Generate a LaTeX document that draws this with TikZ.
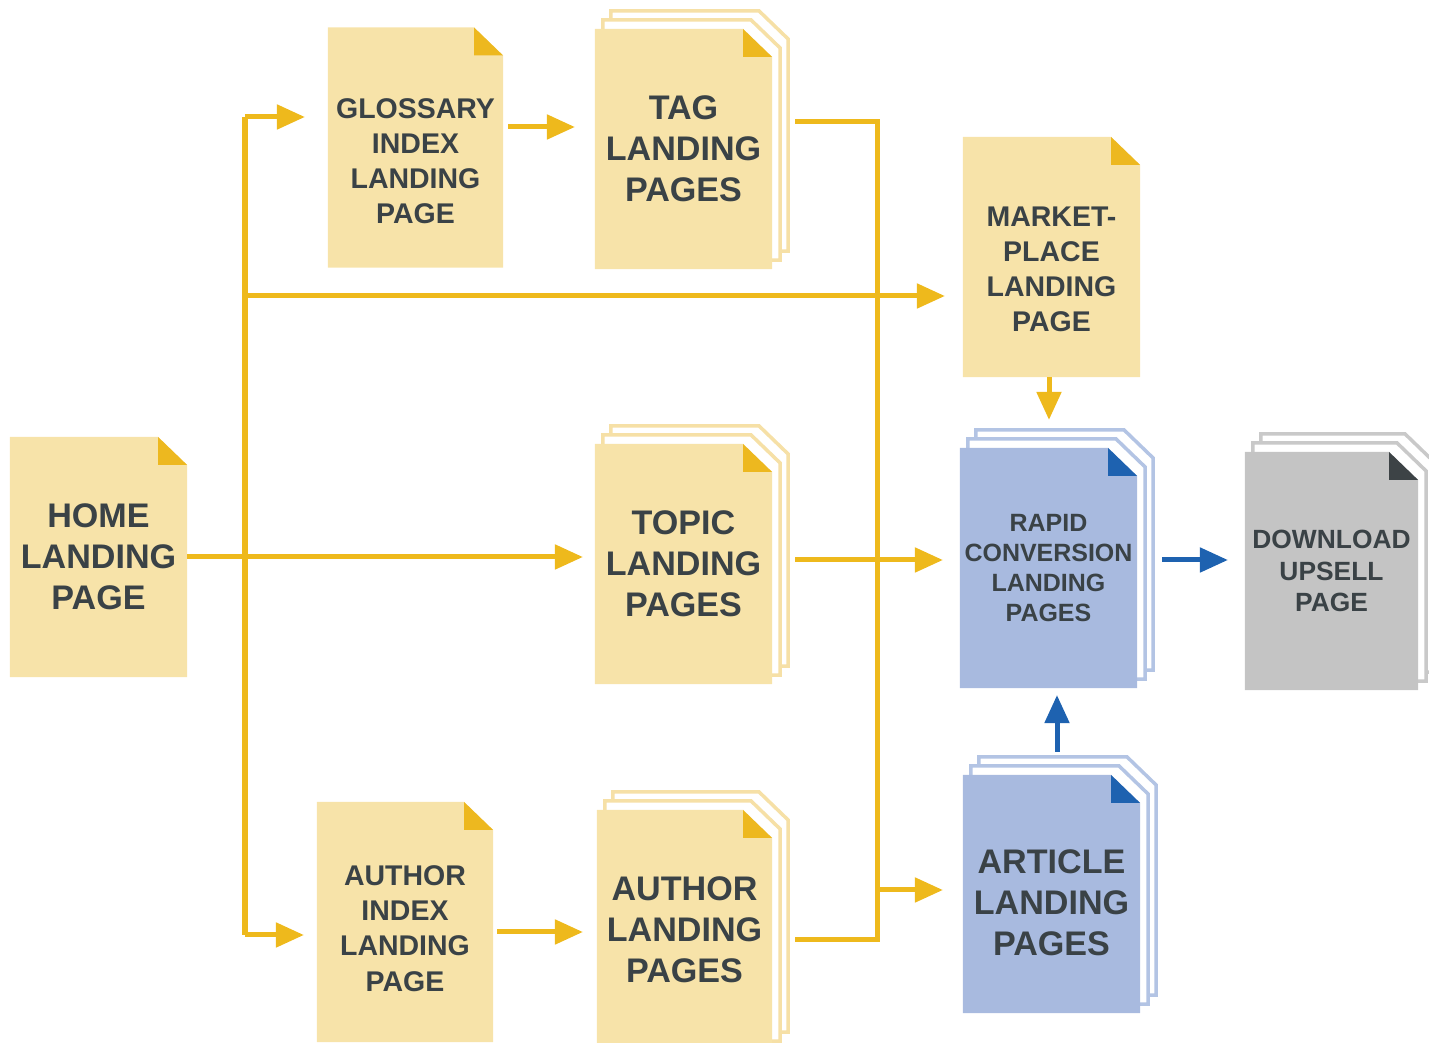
\documentclass[tikz,border=0pt]{standalone}
\usepackage{fontspec}
\setmainfont{Liberation Sans}
\usepackage{tikz}
\usetikzlibrary{arrows.meta,backgrounds}

\definecolor{pagey}{HTML}{F7E3A9}
\definecolor{foldy}{HTML}{EDB81F}
\definecolor{sheety}{HTML}{F6E0A6}
\definecolor{pageb}{HTML}{A8BADF}
\definecolor{foldb}{HTML}{1E62B0}
\definecolor{sheetb}{HTML}{B3C4E4}
\definecolor{pageg}{HTML}{C4C4C4}
\definecolor{foldg}{HTML}{3D4346}
\definecolor{sheetg}{HTML}{C9C9C9}
\definecolor{ink}{HTML}{3A4246}
\definecolor{flowy}{HTML}{EEB91C}
\definecolor{flowb}{HTML}{1E62B0}

\tikzset{
  page/.style={minimum width=1.77cm, minimum height=2.4cm, inner sep=0pt, outer sep=0pt,
    align=center, text=ink},
  big/.style={font=\fontsize{9.7}{11.7}\selectfont\bfseries},
  mid/.style={font=\fontsize{8.1}{10}\selectfont\bfseries},
  tiny/.style={font=\fontsize{7.1}{8.6}\selectfont\bfseries},
  small/.style={font=\fontsize{7.5}{9}\selectfont\bfseries},
  sheet/.style={fill=white, line width=0.035cm},
  wire/.style={draw=flowy, line width=0.05cm},
  flow/.style={wire, -{Triangle[length=0.28cm,width=0.24cm]}},
  bflow/.style={draw=flowb, line width=0.05cm, -{Triangle[length=0.28cm,width=0.24cm]}}
}

% outline of a page, shifted by (#2,#3)
\newcommand{\docpath}[3]{([xshift=#2,yshift=#3]#1.south west) -- ([xshift=#2,yshift=#3]#1.north west)
  -- ([xshift=#2-2.9mm,yshift=#3]#1.north east) -- ([xshift=#2,yshift=#3-2.8mm]#1.north east)
  -- ([xshift=#2,yshift=#3]#1.south east) -- cycle}
\newcommand{\front}[3]{\fill[#2] \docpath{#1}{0pt}{0pt};
  \fill[#3] ([xshift=-2.9mm]#1.north east) -- ([xshift=-2.9mm,yshift=-2.8mm]#1.north east)
  -- ([yshift=-2.8mm]#1.north east) -- cycle;}
\newcommand{\sheets}[2]{\draw[sheet,draw=#2] \docpath{#1}{0.16cm}{0.18cm};
  \draw[sheet,draw=#2] \docpath{#1}{0.08cm}{0.09cm};}

\begin{document}
\begin{tikzpicture}[x=0.01cm, y=-0.01cm]
  \useasboundingbox (0,0) rectangle (1429,1043);

  % pages
  \node[page, big] (home) at (98.5,557) {HOME\\LANDING\\PAGE};
  \node[page, mid, minimum width=1.75cm, text height=43.4pt] (gloss) at (415.5,147.5) {GLOSSARY\\INDEX\\LANDING\\PAGE};
  \node[page, big] (tag) at (683.5,149) {TAG\\LANDING\\PAGES};
  \node[page, mid, text height=42.6pt] (market) at (1051.5,257) {MARKET-\\PLACE\\LANDING\\PAGE};
  \node[page, big] (topic) at (683.5,564) {TOPIC\\LANDING\\PAGES};
  \node[page, tiny] (rapid) at (1048.5,568) {RAPID\\CONVERSION\\LANDING\\PAGES};
  \node[page, small, minimum width=1.73cm, minimum height=2.38cm] (download) at (1331.5,571) {DOWNLOAD\\UPSELL\\PAGE};
  \node[page, mid, minimum width=1.76cm, text height=39.4pt] (aidx) at (405,922) {AUTHOR\\INDEX\\LANDING\\PAGE};
  \node[page, big, minimum width=1.75cm] (alp) at (684.5,930) {AUTHOR\\LANDING\\PAGES};
  \node[page, big, minimum height=2.38cm, text height=35.2pt] (article) at (1051.5,894) {ARTICLE\\LANDING\\PAGES};

  \begin{scope}[on background layer]
    \sheets{tag}{sheety}
    \sheets{topic}{sheety}
    \sheets{alp}{sheety}
    \sheets{rapid}{sheetb}
    \sheets{article}{sheetb}
    \sheets{download}{sheetg}
    \front{home}{pagey}{foldy}
    \front{gloss}{pagey}{foldy}
    \front{tag}{pagey}{foldy}
    \front{market}{pagey}{foldy}
    \front{topic}{pagey}{foldy}
    \front{aidx}{pagey}{foldy}
    \front{alp}{pagey}{foldy}
    \front{rapid}{pageb}{foldb}
    \front{article}{pageb}{foldb}
    \front{download}{pageg}{foldg}
  \end{scope}

  % connectors
  \coordinate (trunktop) at (245,117);
  \coordinate (trunkbot) at (245,935);
  \coordinate (mkt) at (245,296);
  \coordinate (bus) at (877,890);

  \draw[wire] (trunktop) -- (trunkbot);
  \draw[flow, shorten >=0.23cm] (trunktop) -- (trunktop -| gloss.west);
  \draw[flow, shorten >=0.13cm] (trunkbot) -- (trunkbot -| aidx.west);
  \draw[flow, shorten >=0.18cm] (mkt) -- (mkt -| market.west);
  \draw[flow, shorten >=0.12cm] (home.east) -- (home.east -| topic.west);
  \draw[flow, shorten <=0.05cm, shorten >=0.2cm] (gloss.east |- 0,127) -- (tag.west |- 0,127);
  \draw[flow, shorten <=0.04cm, shorten >=0.14cm] (aidx.east |- 0,932) -- (alp.west |- 0,932);
  \draw[wire, shorten <=0.23cm] (tag.east |- 0,122) -| (bus);
  \draw[wire, shorten <=0.23cm] (alp.east |- 0,940) -| (bus);
  \draw[flow, shorten >=0.2cm] (bus) -- (bus -| article.west);
  \draw[flow, shorten <=0.23cm, shorten >=0.17cm] (topic.east |- 0,560) -- (rapid.west |- 0,560);
  \draw[flow, shorten >=0.28cm] (market.south -| 1049,0) -- (rapid.north -| 1049,0);
  \draw[bflow, shorten <=0.25cm, shorten >=0.17cm] (rapid.east |- 0,560) -- (download.west |- 0,560);
  \draw[bflow, shorten <=0.23cm, shorten >=0.07cm] (article.north -| 1057,0) -- (rapid.south -| 1057,0);
\end{tikzpicture}
\end{document}
